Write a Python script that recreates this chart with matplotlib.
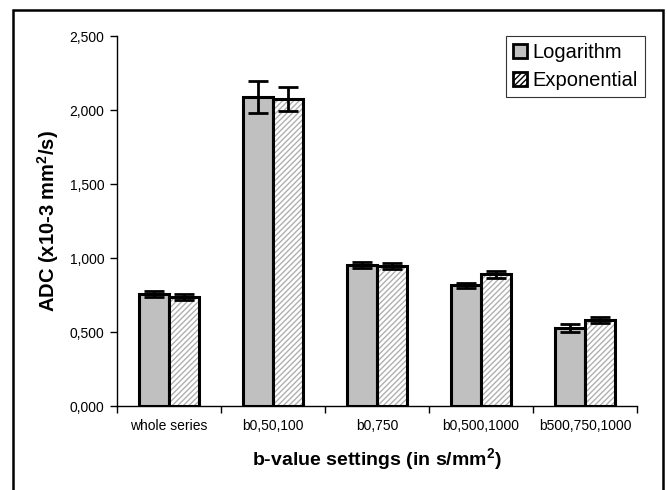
import matplotlib
matplotlib.use("Agg")
import matplotlib.pyplot as plt
import numpy as np
from matplotlib.patches import Rectangle, Patch
from matplotlib.ticker import FuncFormatter, FixedLocator

plt.rcParams['font.family'] = ['Liberation Sans', 'DejaVu Sans']
plt.rcParams['mathtext.fontset'] = 'custom'
plt.rcParams['mathtext.rm'] = 'Liberation Sans'
plt.rcParams['mathtext.bf'] = 'Liberation Sans:bold'
plt.rcParams['hatch.linewidth'] = 1.0

categories = ["whole series", "b0,50,100", "b0,750", "b0,500,1000", "b500,750,1000"]
log_vals = [0.757, 2.088, 0.950, 0.815, 0.527]
log_err = [0.020, 0.110, 0.020, 0.018, 0.025]
exp_vals = [0.736, 2.073, 0.946, 0.890, 0.582]
exp_err = [0.020, 0.082, 0.022, 0.025, 0.020]
yticks = [0.0, 0.5, 1.0, 1.5, 2.0, 2.5]

fig = plt.figure(figsize=(6.67, 4.9), dpi=100)
ax = fig.add_axes([0.1754, 0.1714, 0.955 - 0.1754, 0.9265 - 0.1714])

x = np.arange(len(categories))
w = 0.29
xl = x - w / 2
xe = x + w / 2

ax.bar(xl, log_vals, w, color='#c0c0c0', edgecolor='black', linewidth=2.2, zorder=2)
ax.bar(xe, exp_vals, w, color='white', edgecolor='#b0b0b0', hatch='//////', linewidth=0, zorder=2)
ax.bar(xe, exp_vals, w, color='none', edgecolor='black', linewidth=2.2, zorder=3)
ax.errorbar(xl, log_vals, yerr=log_err, fmt='none', ecolor='black', elinewidth=2, capsize=7.5, capthick=2, zorder=4)
ax.errorbar(xe, exp_vals, yerr=exp_err, fmt='none', ecolor='black', elinewidth=2, capsize=7.5, capthick=2, zorder=4)

ax.set_xlim(-0.5, len(categories) - 0.5)
ax.set_ylim(0, 2.5)
ax.set_yticks(yticks)
ax.yaxis.set_major_formatter(FuncFormatter(lambda v, p: f"{v:.3f}".replace('.', ',')))
ax.set_xticks(x)
ax.set_xticklabels(categories, fontsize=10)
ax.xaxis.set_minor_locator(FixedLocator(np.arange(-0.5, len(categories), 1.0)))
ax.tick_params(axis='x', which='major', length=0, pad=9)
ax.tick_params(axis='x', which='minor', length=5, width=1, direction='out')
ax.tick_params(axis='y', length=5, width=1, direction='out', labelsize=10, pad=4)
for s in ['top', 'right']:
    ax.spines[s].set_visible(False)
for s in ['left', 'bottom']:
    ax.spines[s].set_linewidth(1)

ax.set_ylabel('ADC (x10-3 mm$^\\mathbf{2}$/s)', fontsize=14.5, fontweight='bold', labelpad=6)
ax.set_xlabel('b-value settings (in s/mm$^\\mathbf{2}$)', fontsize=14, fontweight='bold', labelpad=10)

handles = [Patch(facecolor='#c0c0c0', edgecolor='black', linewidth=2, label='Logarithm'),
           Patch(facecolor='white', edgecolor='black', hatch='//////', linewidth=2, label='Exponential')]
leg = ax.legend(handles=handles, loc='upper right', bbox_to_anchor=(1.015, 1.0), fontsize=14.5,
                frameon=True, fancybox=False, handlelength=0.7, handleheight=0.7,
                handletextpad=0.25, borderpad=0.35, labelspacing=0.45, borderaxespad=0.0)
leg.get_frame().set_edgecolor('black')
leg.get_frame().set_linewidth(0.8)

fig.patches.append(Rectangle((13 / 667, -0.05), (663 - 13) / 667, 1 - 10 / 490 + 0.05,
                             transform=fig.transFigure, fill=False, edgecolor='black', linewidth=1.8))

fig.savefig('out.png', dpi=100)
